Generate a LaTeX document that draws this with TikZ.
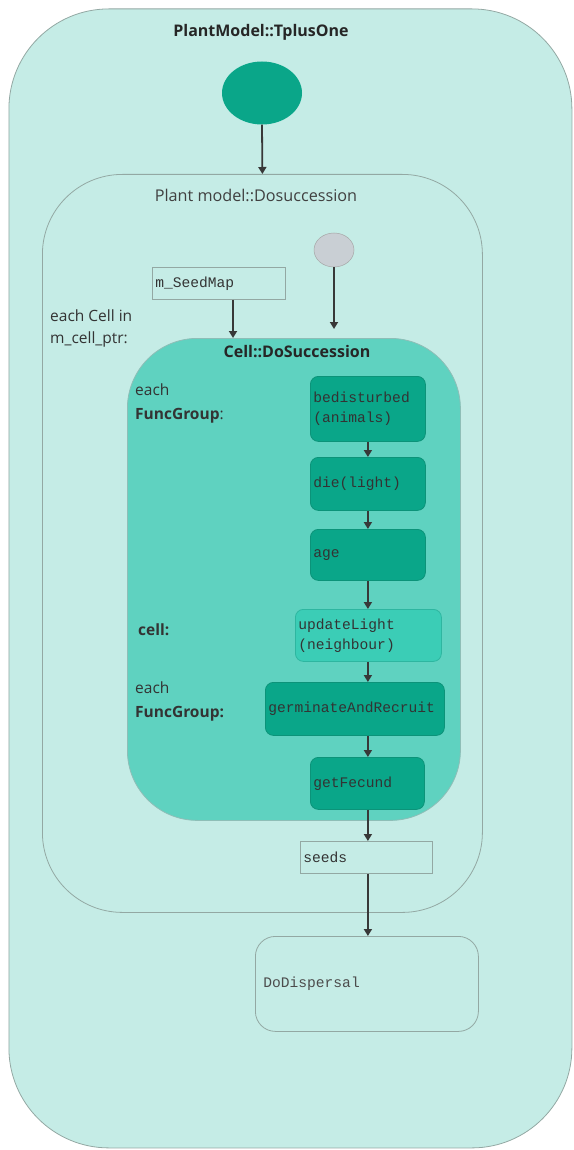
\documentclass[tikz,border=0pt]{standalone}
\usepackage{fontspec}
\setmainfont{Open Sans}
\setmonofont{Liberation Mono}
\usetikzlibrary{arrows.meta,shapes.geometric}
\definecolor{bgc}{HTML}{C5ECE6}
\definecolor{cellc}{HTML}{5FD2C0}
\definecolor{darkc}{HTML}{0AA689}
\definecolor{darkb}{HTML}{0C9379}
\definecolor{midc}{HTML}{3BCDB6}
\definecolor{midb}{HTML}{2EB6A0}
\definecolor{greyb}{HTML}{93A8A3}
\definecolor{circc}{HTML}{C9CFD4}
\definecolor{arr}{HTML}{383838}
\begin{document}
\begin{tikzpicture}[x=1pt,y=-1pt,
  frame/.style={draw=greyb,line width=0.8pt,rounded corners=#1,inner sep=0pt},
  fn/.style={draw=darkb,fill=darkc,rounded corners=8pt,line width=0.8pt,inner sep=3pt,font=\ttfamily\fontsize{14.6}{20}\selectfont,align=left,anchor=north west,text=black!80},
  memo/.style={draw=greyb,line width=0.8pt,inner sep=2pt,font=\ttfamily\fontsize{14.6}{18}\selectfont,anchor=north west,text=black!80},
  lbl/.style={font=\fontsize{15.5}{23}\selectfont,align=left,anchor=north west,inner sep=0pt,text=black!80},
  flow/.style={draw=arr,line width=1.8pt,-{Triangle[length=7pt,width=8pt]}}]
\useasboundingbox (0,0) rectangle (573,1150);
% outer
\node[frame=100pt,fill=bgc,minimum width=563pt,minimum height=1139pt,anchor=north west] (outer) at (8.5,8.5) {};
\node[font=\bfseries\fontsize{16}{18}\selectfont,text=black!85] (t1) at (261,32) {PlantModel::TplusOne};
\node[ellipse,fill=darkc,minimum width=80pt,minimum height=63pt,inner sep=0pt] (start) at (262,93) {};
% Dosuccession
\node[frame=80pt,minimum width=440pt,minimum height=738pt,anchor=north west] (dosucc) at (42,174) {};
\node[font=\fontsize{16.2}{18}\selectfont,text=black!75] (t2) at (256,195) {Plant model::Dosuccession};
\node[ellipse,fill=circc,draw=gray!70,line width=0.5pt,minimum width=40pt,minimum height=34pt,inner sep=0pt] (gcirc) at (334,250) {};
\node[memo,minimum width=133pt,minimum height=32pt,text width=127pt] (seedmap) at (152,267) {m\_SeedMap};
\node[lbl,font=\fontsize{15.5}{22}\selectfont] (eachcell) at (50,310) {each Cell in\\m\_cell\_ptr:};
% Cell
\node[frame=70pt,fill=cellc,draw=cellc!70!black!60,minimum width=333pt,minimum height=482pt,anchor=north west] (cell) at (127,338) {};
\node[font=\bfseries\fontsize{16}{18}\selectfont,text=black!85] (t3) at (297,352) {Cell::DoSuccession};
\node[lbl,font=\fontsize{15.5}{24}\selectfont] (fg1) at (135,384) {each\\\textbf{FuncGroup}:};
\node[lbl,font=\bfseries\fontsize{15.5}{18}\selectfont] (cl) at (138,624) {cell:};
\node[lbl,font=\fontsize{15.5}{24}\selectfont] (fg2) at (135,682) {each\\\textbf{FuncGroup:}};
\node[fn,minimum width=115pt,minimum height=65pt,text width=109pt] (bed) at (310,376) {bedisturbed\\(animals)};
\node[fn,minimum width=115pt,minimum height=53pt,text width=109pt] (die) at (310,457) {die(light)};
\node[fn,minimum width=115pt,minimum height=51pt,text width=109pt] (age) at (310,529) {age};
\node[fn,fill=midc,draw=midb,minimum width=146pt,minimum height=52pt,text width=140pt,inner sep=1pt] (upd) at (295,609) {updateLight\\(neighbour)};
\node[fn,minimum width=179pt,minimum height=53pt,text width=173pt,inner sep=2pt] (germ) at (265,682) {germinateAndRecruit};
\node[fn,minimum width=114pt,minimum height=52pt,text width=108pt] (fec) at (310,757) {getFecund};
% seeds + dispersal
\node[memo,minimum width=132pt,minimum height=32pt,text width=126pt,inner sep=1pt] (seeds) at (300,841) {seeds};
\node[frame=20pt,minimum width=223pt,minimum height=95pt,anchor=north west,font=\ttfamily\fontsize{14.6}{18}\selectfont,text width=215pt,align=left,text=black!70] (disp) at (255,936) {\hspace*{4pt}DoDispersal};
% connectors
\draw[flow] (start.south) -- (dosucc.north);
\draw[flow] (seedmap.south -| 233,0) -- (233,338);
\draw[flow,shorten >=9pt] (gcirc.south) -- (gcirc.south |- cell.north);
\draw[flow] (bed.south) -- (die.north);
\draw[flow] (die.south) -- (age.north);
\draw[flow] (age.south) -- (age.south |- upd.north);
\draw[flow] (age.south |- upd.south) -- (age.south |- germ.north);
\draw[flow] (age.south |- germ.south) -- (age.south |- fec.north);
\draw[flow] (age.south |- fec.south) -- (age.south |- seeds.north);
\draw[flow] (age.south |- seeds.south) -- (age.south |- disp.north);
\end{tikzpicture}
\end{document}
